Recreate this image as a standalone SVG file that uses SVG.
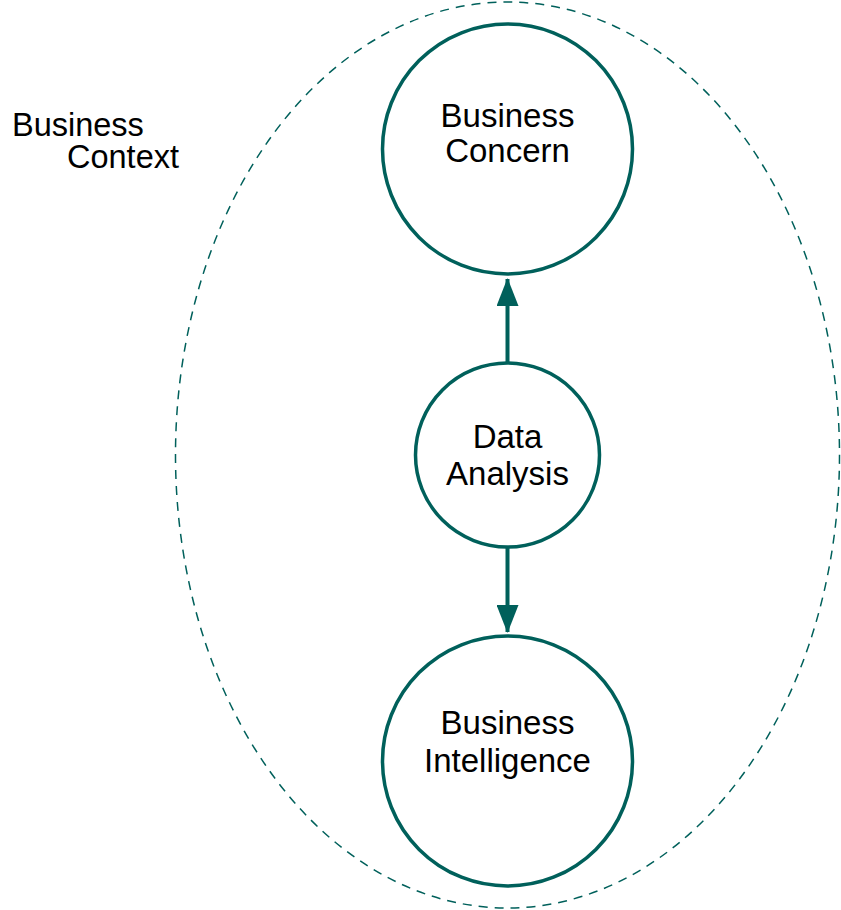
<svg xmlns="http://www.w3.org/2000/svg" width="841" height="910" viewBox="0 0 841 910">
<style>
.n{fill:#fff;stroke:#00605b;stroke-width:3.5}
.t{font-family:"Liberation Sans",Arial,sans-serif;font-size:33px;fill:#000;text-anchor:middle}
.l{font-family:"Liberation Sans",Arial,sans-serif;font-size:32.5px;fill:#000}
.c{stroke:#00605b;stroke-width:4;fill:none}
</style>
<defs>
<marker id="ah" markerUnits="userSpaceOnUse" markerWidth="28" markerHeight="22" refX="27" refY="11" orient="auto" viewBox="0 0 28 22">
<path d="M0,0 L28,11 L0,22 Z" fill="#00605b"/>
</marker>
</defs>
<rect width="841" height="910" fill="#fff"/>
<g id="context">
<ellipse cx="507.5" cy="455" rx="332" ry="453" fill="none" stroke="#00605b" stroke-width="1.5" stroke-dasharray="9 7"/>
<text class="l" x="12" y="136">Business</text>
<text class="l" x="67" y="168">Context</text>
</g>
<g id="connectors">
<line class="c" x1="507.5" y1="362" x2="507.5" y2="279" marker-end="url(#ah)"/>
<line class="c" x1="507.5" y1="548" x2="507.5" y2="632" marker-end="url(#ah)"/>
</g>
<g id="business-concern">
<circle class="n" cx="507.5" cy="149" r="125"/>
<text class="t" x="507.5" y="127">Business</text>
<text class="t" x="507.5" y="162">Concern</text>
</g>
<g id="data-analysis">
<circle class="n" cx="507.5" cy="455" r="92"/>
<text class="t" x="507.5" y="448">Data</text>
<text class="t" x="507.5" y="485">Analysis</text>
</g>
<g id="business-intelligence">
<circle class="n" cx="507.5" cy="761" r="125"/>
<text class="t" x="507.5" y="734">Business</text>
<text class="t" x="507.5" y="772">Intelligence</text>
</g>
</svg>
